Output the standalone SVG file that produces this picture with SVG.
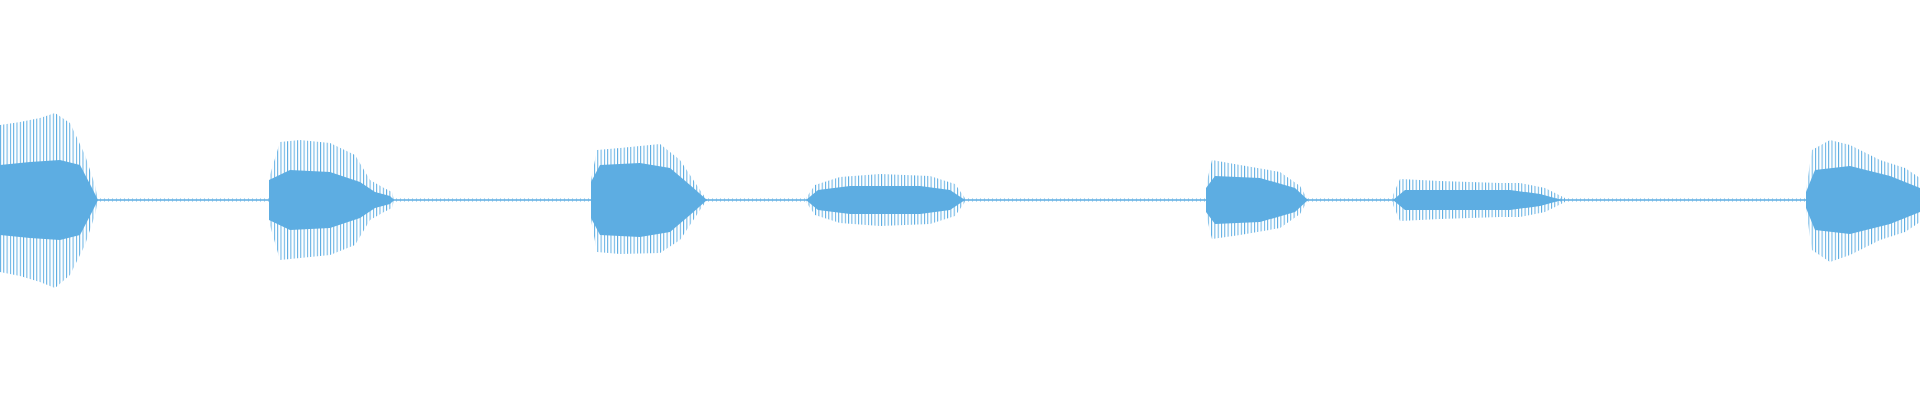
<svg xmlns="http://www.w3.org/2000/svg" width="1920" height="400" viewBox="0 0 1920 400">
<style>
.body{fill:#5dade2}
.spk{fill:url(#lines)}
.base{stroke:#5dade2;stroke-width:1.5;fill:none}
</style>
<defs>
<pattern id="lines" width="3.3" height="400" patternUnits="userSpaceOnUse">
<rect x="0" y="0" width="1" height="400" fill="#5dade2"/>
</pattern>
<pattern id="lines2" width="4" height="400" patternUnits="userSpaceOnUse">
<rect x="0" y="0" width="0.8" height="400" fill="#5dade2"/>
</pattern>
</defs>
<line class="base" x1="0" y1="200" x2="1920" y2="200"/>
<rect x="0" y="198" width="1920" height="4" fill="url(#lines2)" opacity="0.5"/>
<g id="burst1">
<path class="spk" d="M0,125 L20,122 L40,118 L55,113 L70,123 L85,155 L95,185 L98,200 L95,215 L85,245 L70,275 L55,288 L40,282 L20,276 L0,272 Z"/>
<path class="body" d="M0,165 L30,162 L60,160 L80,165 L92,188 L98,200 L92,212 L80,235 L60,240 L30,238 L0,235 Z"/>
</g>
<g id="burst2">
<path class="spk" d="M269,178 L280,142 L300,140 L330,143 L355,155 L370,180 L384,188 L392,192 L394,200 L392,208 L384,212 L370,220 L355,245 L330,255 L300,258 L280,260 L269,222 Z"/>
<path class="body" d="M269,180 L290,170 L330,172 L360,182 L375,192 L390,196 L394,200 L390,204 L375,208 L360,218 L330,228 L290,230 L269,220 Z"/>
</g>
<g id="burst3">
<path class="spk" d="M591,180 L597,150 L620,148 L660,144 L680,160 L700,190 L707,200 L700,210 L680,240 L660,253 L620,254 L597,252 L591,220 Z"/>
<path class="body" d="M591,182 L600,165 L640,163 L670,168 L690,185 L707,200 L690,215 L670,232 L640,237 L600,235 L591,218 Z"/>
</g>
<g id="burst4">
<path class="spk" d="M806,198 L815,185 L840,177 L880,174 L930,176 L955,184 L965,198 L965,202 L955,216 L930,224 L880,226 L840,223 L815,215 L806,202 Z"/>
<path class="body" d="M806,200 L818,190 L850,186 L920,186 L950,190 L965,200 L950,210 L920,214 L850,214 L818,210 Z"/>
</g>
<g id="burst5">
<path class="spk" d="M1206,185 L1212,160 L1240,165 L1280,172 L1300,186 L1308,200 L1300,214 L1280,228 L1240,235 L1212,239 L1206,215 Z"/>
<path class="body" d="M1206,188 L1215,176 L1260,178 L1295,188 L1308,200 L1295,212 L1260,222 L1215,224 L1206,212 Z"/>
</g>
<g id="burst6">
<path class="spk" d="M1393,195 L1400,179 L1440,181 L1500,183 L1520,183 L1545,188 L1565,198 L1565,202 L1545,212 L1520,217 L1500,217 L1440,219 L1400,221 L1393,205 Z"/>
<path class="body" d="M1393,200 L1405,190 L1460,190 L1510,190 L1540,194 L1562,200 L1540,206 L1510,210 L1460,210 L1405,210 Z"/>
</g>
<g id="burst7">
<path class="spk" d="M1806,190 L1812,150 L1830,140 L1850,145 L1880,160 L1905,168 L1920,178 L1920,222 L1905,232 L1880,240 L1850,255 L1830,262 L1812,250 L1806,210 Z"/>
<path class="body" d="M1806,192 L1815,170 L1850,166 L1890,176 L1920,188 L1920,212 L1890,224 L1850,234 L1815,230 L1806,208 Z"/>
</g>
</svg>
